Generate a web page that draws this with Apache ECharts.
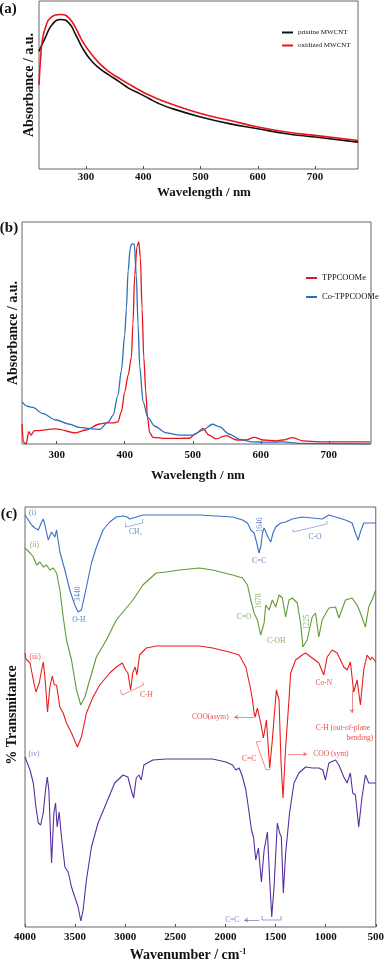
<!DOCTYPE html>
<html><head><meta charset="utf-8">
<script src="https://cdn.jsdelivr.net/npm/echarts@6/dist/echarts.min.js"></script>
<style>html,body{margin:0;padding:0;background:#fff}#c{width:387px;height:962px}</style>
</head><body><div id="c"></div>
<script>
// ---------- Panel (a): UV-vis of MWCNT ----------
const aTicks = [300, 400, 500, 600, 700];
const aPristineX = [218,230,241,256,270,282,294,308,323,340,358,375,393,410,427,450,500,550,600,650,700,775];
const aPristineY = [0.70,0.79,0.86,0.89,0.87,0.80,0.72,0.65,0.60,0.56,0.52,0.48,0.45,0.42,0.39,0.36,0.31,0.27,0.24,0.21,0.19,0.16];
const aOxidizedX = [218,221,224,230,238,256,270,282,294,308,323,340,358,375,393,410,427,450,500,550,600,650,700,775];
const aOxidizedY = [0.50,0.67,0.77,0.85,0.90,0.92,0.90,0.84,0.76,0.69,0.63,0.58,0.54,0.505,0.47,0.44,0.415,0.385,0.33,0.29,0.25,0.22,0.20,0.17];

// ---------- Panel (b): UV-vis of porphyrins ----------
const bTicks = [300, 400, 500, 600, 700];
const bTppX = [249,251,255,259,262,267,299,328,343,363,373,383,390,395,400,405,409.8,412,414.7,418,420.6,423,425.5,428,431,433.4,436.8,441.6,461,495,505,515,524,534,549,564,578,591,603,623,632,647,662,686,761];
const bTppY = [0.09,0.01,0,0.056,0.04,0.06,0.068,0.05,0.063,0.09,0.095,0.095,0.10,0.145,0.235,0.31,0.39,0.54,0.76,0.89,0.91,0.84,0.61,0.39,0.235,0.12,0.05,0.03,0.025,0.026,0.048,0.07,0.04,0.023,0.038,0.018,0.018,0.03,0.018,0.014,0.018,0.029,0.014,0.01,0.01];
const bCoX = [249,257,265,279,299,319,333,353,363,376,383,390,395,400,402.4,405,408,410,414,417,419.6,422,427,434,444,461,481,500,515,529,539,554,569,588,608,632,657,761];
const bCoY = [0.19,0.17,0.165,0.138,0.108,0.089,0.075,0.068,0.066,0.10,0.13,0.22,0.33,0.49,0.61,0.78,0.88,0.90,0.90,0.76,0.54,0.35,0.19,0.12,0.08,0.05,0.04,0.04,0.063,0.089,0.078,0.044,0.021,0.01,0.008,0.01,0.003,0];

// ---------- Panel (c): FTIR (offset, arbitrary units) ----------
const cIWn = [4000,3967,3934,3901,3867,3834,3818,3801,3768,3735,3702,3685,3652,3602,3553,3503,3470,3453,3437,3387,3337,3287,3221,3155,3089,3022,2980,2956,2940,2923,2890,2824,2592,2260,2094,1929,1829,1780,1747,1714,1690,1664,1644,1631,1614,1598,1571,1548,1525,1498,1448,1399,1333,1233,1134,1034,968,901,802,736,703,676,653,620,570,500];
const cIVal = [412,407,402,399,397,405,408,402,387,395,390,397,375,357,337,322,315,314,317,340,364,380,397,405,410,411,410,408,410,409,410,412,412,412,411,410,407,404,397,394,385,374,382,394,399,400,389,385,394,400,404,405,408,410,409,408,412,410,407,404,394,387,395,404,404,404];
const cIIWn = [4000,3950,3917,3884,3851,3818,3785,3752,3718,3685,3652,3619,3586,3536,3486,3443,3403,3354,3288,3188,3089,2923,2824,2691,2592,2459,2260,2128,1929,1829,1780,1747,1714,1681,1648,1614,1598,1565,1532,1498,1465,1432,1399,1366,1333,1283,1250,1227,1184,1134,1101,1068,1035,968,901,868,802,736,686,653,603,570,537,500];
const cIIVal = [379,374,370,362,365,360,362,357,359,354,337,310,287,267,237,222,230,247,270,287,307,327,342,354,355,357,359,357,352,349,342,327,314,307,292,304,322,317,327,320,332,329,310,327,329,324,304,280,287,310,314,290,307,319,320,309,327,329,322,314,300,320,327,337];
const cIIIWn = [4000,3990,3950,3917,3891,3858,3834,3818,3801,3775,3752,3728,3708,3685,3652,3619,3586,3536,3477,3437,3387,3321,3254,3155,3089,3029,2996,2973,2946,2923,2900,2883,2857,2790,2691,2260,2128,1962,1863,1796,1747,1730,1714,1704,1681,1648,1621,1591,1558,1532,1492,1465,1445,1425,1399,1366,1349,1300,1233,1200,1134,1068,1018,985,935,885,819,786,753,720,686,653,620,587,553,537,500];
const cIIIVal = [274,268,264,247,235,244,257,265,250,215,240,251,242,242,220,214,204,194,180,190,214,230,242,254,260,264,257,254,237,255,260,252,272,279,281,281,279,275,272,260,237,227,214,210,219,204,189,207,159,187,237,227,164,129,180,227,254,267,272,274,269,264,252,270,277,274,260,257,265,235,247,222,257,272,267,270,265];
const cIVWn = [4000,3990,3950,3917,3891,3867,3844,3818,3795,3778,3762,3735,3712,3695,3679,3659,3636,3602,3569,3536,3503,3470,3443,3420,3387,3337,3271,3188,3105,3022,2973,2940,2916,2890,2863,2840,2814,2724,2592,2260,2128,1995,1929,1896,1863,1829,1796,1763,1740,1720,1697,1671,1641,1614,1581,1558,1538,1515,1482,1459,1442,1422,1399,1360,1316,1267,1200,1134,1068,1028,1002,968,901,868,819,786,753,730,703,670,637,603,570,537,500];
const cIVVal = [170,169,157,144,120,104,102,114,137,150,137,64,114,124,100,115,90,60,55,40,30,20,6,17,47,80,104,124,144,152,150,137,129,149,152,147,162,167,168,168,168,165,162,157,159,150,137,114,97,90,67,79,45,77,95,47,10,40,104,94,90,34,74,114,144,154,160,159,159,157,147,164,167,162,150,144,154,134,132,100,130,152,144,144,144];
const cTicks = [4000,3500,3000,2500,2000,1500,1000,500];

// annotation texts (wavenumber, value, text, colour key, rotated)
const cLabelText = ['(i)','(ii)','(iii)','(iv)','CH₂','1646','C=C','C-O','3440','O-H','1678','C=O','C-OH','1225','C-H','COO(asym)','C=C','COO (sym)','Co-N','C-H (out-of-plane','bending)','C=C'];
const cLabelWn   = [3925,3905,3900,3910,2896,1654,1663,1107,3473,3463,1663,1813,1494,1186,2787,2151,1763,948,1017,828,659,1932];
const cLabelVal  = [414,382,270,173,395,402,366,390,333,307,326,310,286,305,232,210,168,173,244,199,189,7];
const cLabelCol  = ['i','ii','iii','iv','i','i','i','i','i','i','ii','ii','ii','ii','iii','iii','iii','iii','iii','iii','iii','iv'];
const cLabelRot  = [0,0,0,0,0,90,0,0,90,0,90,0,0,90,0,0,0,0,0,0,0,0];

const colA = {black:'#111111', red:'#e8161c'};
const colB = {red:'#e8141c', blue:'#2c6fb5'};
const colC = {i:'#3a70c6', ii:'#5f9a35', iii:'#ec1c1c', iv:'#5a2ea0'};
const colCText = {i:'#4466b8', ii:'#6a9a45', iii:'#e82020', iv:'#7a5cc0'};

const zip = (xs, ys) => xs.map((x, i) => [x, ys[i]]);
const serif = "'Liberation Serif','Times New Roman',serif";

// brackets and arrows in data coordinates [wn, value]
const bracketLines = [
  {c:'i',  pts:[[2996,404],[2996,400],[2827,404],[2827,408]]},
  {c:'i',  pts:[[1325,398],[1325,395],[987,403],[987,406]]},
  {c:'iii',pts:[[3050,237],[3030,232],[2817,242],[2827,245]]},
  {c:'iii',pts:[[1644,186],[1693,185],[1594,157],[1544,158]]},
  {c:'iv', pts:[[1634,11],[1634,7],[1445,7],[1445,11]]}
];
const arrowLines = [
  {c:'iii', pts:[[1713,210],[1912,210]]},
  {c:'iii', pts:[[1375,173],[1186,173]]},
  {c:'iii', pts:[[739,237],[739,214]]},
  {c:'iv',  pts:[[1663,7],[1813,7]]}
];

const chart = echarts.init(document.getElementById('c'), null, {renderer:'canvas'});

const tickLabel = {color:'#111', fontFamily:serif, fontWeight:'bold', fontSize:11, formatter:v => String(v)};
const gridStyle = {show:true, borderColor:'#666', borderWidth:1, backgroundColor:'transparent'};
const tick = vals => ({show:true, inside:true, length:3, lineStyle:{color:'#555', width:1}, customValues:vals});

const option = {
  animation:false,
  backgroundColor:'#fff',
  grid:[
    Object.assign({left:39, top:1, width:319, height:168}, gridStyle),
    Object.assign({left:22, top:222, width:349, height:222}, gridStyle),
    Object.assign({left:25, top:507, width:352, height:420}, gridStyle)
  ],
  xAxis:[
    {gridIndex:0, type:'value', min:218, max:775, axisLine:{show:false}, splitLine:{show:false},
     axisTick:tick(aTicks), axisLabel:Object.assign({margin:3, customValues:aTicks}, tickLabel)},
    {gridIndex:1, type:'value', min:249, max:762, axisLine:{show:false}, splitLine:{show:false},
     axisTick:tick(bTicks), axisLabel:Object.assign({margin:6, customValues:bTicks}, tickLabel)},
    {gridIndex:2, type:'value', min:500, max:4000, interval:500, inverse:true, axisLine:{show:false}, splitLine:{show:false},
     axisTick:tick(cTicks), axisLabel:Object.assign({margin:5, customValues:cTicks}, tickLabel)}
  ],
  yAxis:[
    {gridIndex:0, type:'value', min:0, max:1, show:false},
    {gridIndex:1, type:'value', min:0, max:1, show:false},
    {gridIndex:2, type:'value', min:0, max:420, show:false}
  ],
  legend:[
    {data:['pristine MWCNT','oxidized MWCNT'], orient:'vertical', left:277, top:23, icon:'rect',
     itemWidth:11, itemHeight:2, itemGap:4, textStyle:{fontFamily:serif, fontSize:7, color:'#111', lineHeight:9}},
    {data:['TPPCOOMe','Co-TPPCOOMe'], orient:'vertical', left:301, top:268, icon:'rect',
     itemWidth:11, itemHeight:2, itemGap:9, textStyle:{fontFamily:serif, fontSize:8.5, color:'#111', lineHeight:10}}
  ],
  graphic:[
    {type:'text', x:8, y:9, style:{text:'(a)', font:'bold 15px '+serif, fill:'#111', textAlign:'center', textVerticalAlign:'middle'}},
    {type:'text', x:9, y:228, style:{text:'(b)', font:'bold 15px '+serif, fill:'#111', textAlign:'center', textVerticalAlign:'middle'}},
    {type:'text', x:9, y:514, style:{text:'(c)', font:'bold 15px '+serif, fill:'#111', textAlign:'center', textVerticalAlign:'middle'}},
    {type:'text', x:204, y:193, style:{text:'Wavelength / nm', font:'bold 13px '+serif, fill:'#111', textAlign:'center', textVerticalAlign:'middle'}},
    {type:'text', x:198, y:476, style:{text:'Wavelength / nm', font:'bold 13px '+serif, fill:'#111', textAlign:'center', textVerticalAlign:'middle'}},
    {type:'text', x:188, y:955, style:{text:'Wavenumber / cm{sup|-1}', font:'bold 14px '+serif, fill:'#111', textAlign:'center', textVerticalAlign:'middle',
      rich:{sup:{font:'bold 8px '+serif, fill:'#111', padding:[0,0,7,0]}}}},
    {type:'text', x:29, y:85, rotation:Math.PI/2, style:{text:'Absorbance / a.u.', font:'bold 14px '+serif, fill:'#111', textAlign:'center', textVerticalAlign:'middle'}},
    {type:'text', x:13, y:333, rotation:Math.PI/2, style:{text:'Absorbance / a.u.', font:'bold 14px '+serif, fill:'#111', textAlign:'center', textVerticalAlign:'middle'}},
    {type:'text', x:12, y:715, rotation:Math.PI/2, style:{text:'% Transmitance', font:'bold 14px '+serif, fill:'#111', textAlign:'center', textVerticalAlign:'middle'}}
  ],
  series:[
    {name:'pristine MWCNT', type:'line', xAxisIndex:0, yAxisIndex:0, data:zip(aPristineX, aPristineY), smooth:0.5,
     showSymbol:false, color:colA.black, lineStyle:{width:1.6, color:colA.black}},
    {name:'oxidized MWCNT', type:'line', xAxisIndex:0, yAxisIndex:0, data:zip(aOxidizedX, aOxidizedY), smooth:0.5,
     showSymbol:false, color:colA.red, lineStyle:{width:1.6, color:colA.red}},
    {name:'TPPCOOMe', type:'line', xAxisIndex:1, yAxisIndex:1, data:zip(bTppX, bTppY), smooth:0.3, smoothMonotone:'x',
     showSymbol:false, color:colB.red, lineStyle:{width:1.3, color:colB.red}},
    {name:'Co-TPPCOOMe', type:'line', xAxisIndex:1, yAxisIndex:1, data:zip(bCoX, bCoY), smooth:0.3, smoothMonotone:'x',
     showSymbol:false, color:colB.blue, lineStyle:{width:1.3, color:colB.blue}},
    {name:'(i)', type:'line', xAxisIndex:2, yAxisIndex:2, data:zip(cIWn, cIVal), showSymbol:false, lineStyle:{width:1.1, color:colC.i}},
    {name:'(ii)', type:'line', xAxisIndex:2, yAxisIndex:2, data:zip(cIIWn, cIIVal), showSymbol:false, lineStyle:{width:1.1, color:colC.ii}},
    {name:'(iii)', type:'line', xAxisIndex:2, yAxisIndex:2, data:zip(cIIIWn, cIIIVal), showSymbol:false, lineStyle:{width:1.1, color:colC.iii}},
    {name:'(iv)', type:'line', xAxisIndex:2, yAxisIndex:2, data:zip(cIVWn, cIVVal), showSymbol:false, lineStyle:{width:1.1, color:colC.iv}},
    {type:'lines', coordinateSystem:'cartesian2d', xAxisIndex:2, yAxisIndex:2, polyline:true, silent:true,
     data:bracketLines.map(b => ({coords:b.pts, lineStyle:{color:colC[b.c], width:1}})), symbol:['none','none']},
    {type:'lines', coordinateSystem:'cartesian2d', xAxisIndex:2, yAxisIndex:2, polyline:false, silent:true,
     data:arrowLines.map(b => ({coords:b.pts, lineStyle:{color:colC[b.c], width:1}})), symbol:['none','arrow'], symbolSize:4},
    {type:'scatter', xAxisIndex:2, yAxisIndex:2, symbolSize:1, itemStyle:{color:'rgba(0,0,0,0)'}, silent:true, z:5,
     data:cLabelText.map((t, i) => ({name:t, value:[cLabelWn[i], cLabelVal[i]],
       label:{show:true, position:'inside', formatter:'{b}', rotate:cLabelRot[i], color:colCText[cLabelCol[i]],
              fontFamily:serif, fontSize:7.5}}))}
  ]
};
chart.setOption(option);
</script>
</body></html>
